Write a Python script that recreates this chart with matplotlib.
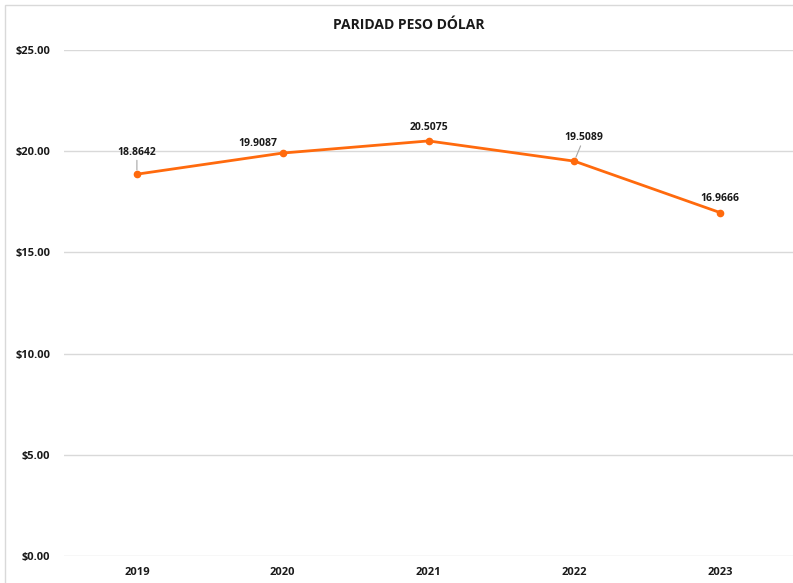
import matplotlib
matplotlib.use("Agg")
import matplotlib.pyplot as plt
from matplotlib.patches import Rectangle

years = ["2019", "2020", "2021", "2022", "2023"]
values = [18.8642, 19.9087, 20.5075, 19.5089, 16.9666]
yticks = [0, 5, 10, 15, 20, 25]
title = "PARIDAD PESO DÓLAR"

plt.rcParams['font.family'] = ['Open Sans', 'DejaVu Sans']

fig = plt.figure(figsize=(7.93, 5.83), dpi=100)
ax = fig.add_axes([64/793, 1-556/583, (793-64)/793, (556-50)/583])

x = list(range(len(years)))
color = "#FF6A0D"
ax.plot(x, values, color=color, lw=2.0, marker="o", ms=4.5, zorder=3)

ax.set_xlim(-0.5, len(years)-0.5)
ax.set_ylim(0, 25)
ax.set_yticks(yticks)
ax.set_yticklabels([f"${v:.2f}" for v in yticks], fontsize=8, fontweight="bold", color="#1a1a1a")
ax.set_xticks(x)
ax.set_xticklabels(years, fontsize=8, fontweight="bold", color="#1a1a1a")
ax.tick_params(length=0, pad=8)
ax.tick_params(axis="y", pad=10)
ax.grid(axis="y", color="#d9d9d9", lw=1)
ax.set_axisbelow(True)
for s in ax.spines.values():
    s.set_visible(False)

# data labels (offsets in points)
offsets = [(0, 12), (-18, 3), (0, 6), (7, 13), (0, 6)]
leader = [True, False, False, True, False]
for xi, v, off, ld in zip(x, values, offsets, leader):
    ax.annotate(f"{v:.4f}", xy=(xi, v), xytext=off, textcoords="offset points",
                ha="center", va="bottom", fontsize=7.5, fontweight="bold", color="#1a1a1a",
                arrowprops=dict(arrowstyle="-", color="#a6a6a6", lw=0.8,
                                shrinkA=0, shrinkB=3) if ld else None)

fig.text(409/793, 1-25/583, title, ha="center", va="center", fontsize=10, fontweight="bold", color="#1a1a1a")

fig.patches.append(Rectangle((5/793, -0.1), 1.2, 1.1 - 5/583, transform=fig.transFigure,
                             fill=False, edgecolor="#d9d9d9", lw=1))

fig.savefig("out.png", dpi=100)
